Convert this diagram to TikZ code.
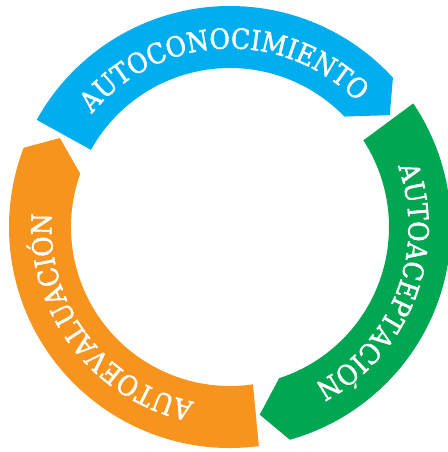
\documentclass[tikz,border=0pt]{standalone}
\usepackage{fontspec}
\newfontfamily\segfont[FakeBold=1.6]{DejaVu Serif Condensed}
\usetikzlibrary{decorations.text}

\definecolor{autoblue}{HTML}{00AEEF}
\definecolor{autogreen}{HTML}{00A651}
\definecolor{autoorange}{HTML}{F7941D}

\begin{document}
\begin{tikzpicture}[
    ringtext/.style={decorate, decoration={text along path, text align=center, text color=white}}
  ]
  \useasboundingbox (-4.6,-4.5) rectangle (4.36,4.54);

  % ring segments: outer arc, arrow tip, inner arc back to the tail
  \fill[autoblue] (151:4.42) arc[start angle=151, end angle=42.5, radius=4.42]
    -- (35:3.9) -- (44:3.18) arc[start angle=44, end angle=151, radius=3.18] -- cycle;
  \fill[autogreen] (34:4.42) arc[start angle=34, end angle=-74.3, radius=4.42]
    -- (-81:3.8) -- (-72:3.18) arc[start angle=-72, end angle=33, radius=3.18] -- cycle;
  \fill[autoorange] (-82.5:4.42) arc[start angle=-82.5, end angle=-201, radius=4.42]
    -- (-207.6:3.84) -- (-199.6:3.18) arc[start angle=-199.6, end angle=-81.7, radius=3.18] -- cycle;

  % labels running clockwise along the ring
  \path[ringtext, decoration={text={|\segfont\fontsize{15.8}{18}\selectfont|AUTOCONOCIMIENTO}}]
    (145:3.57) arc[start angle=145, end angle=40, radius=3.57];
  \path[ringtext, decoration={text={|\segfont\fontsize{15.8}{18}\selectfont|AUTOACEPTACIÓN}}]
    (31:3.57) arc[start angle=31, end angle=-73, radius=3.57];
  \path[ringtext, decoration={text={|\segfont\fontsize{15.8}{18}\selectfont|AUTOEVALUACIÓN}}]
    (-91:3.57) arc[start angle=-91, end angle=-195, radius=3.57];
\end{tikzpicture}
\end{document}
